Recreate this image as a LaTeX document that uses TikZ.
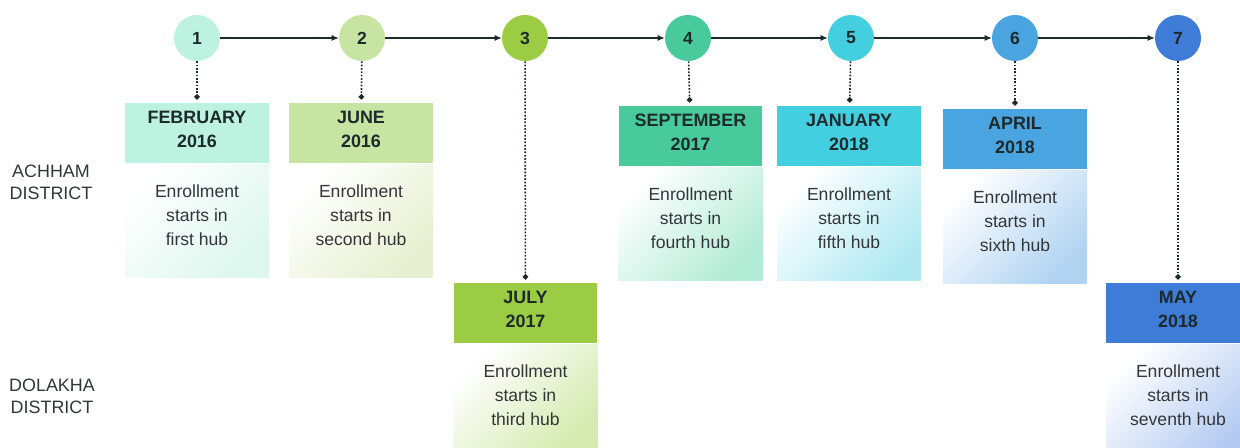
\documentclass[tikz,border=0pt]{standalone}
\usepackage{fontspec}
\setmainfont{Liberation Sans}
\usetikzlibrary{arrows.meta}

\definecolor{hubA}{HTML}{BDF2E0}
\definecolor{hubB}{HTML}{C8E4A2}
\definecolor{hubC}{HTML}{9CCC44}
\definecolor{hubD}{HTML}{48CA9C}
\definecolor{hubE}{HTML}{43CFE0}
\definecolor{hubF}{HTML}{4AA4E0}
\definecolor{hubG}{HTML}{3E7CD8}
\definecolor{noteA}{HTML}{DDF7EE}
\definecolor{noteB}{HTML}{E6F0D0}
\definecolor{noteC}{HTML}{D4EAAE}
\definecolor{noteD}{HTML}{B2EBD6}
\definecolor{noteE}{HTML}{B0E9F2}
\definecolor{noteF}{HTML}{B0D3F2}
\definecolor{noteG}{HTML}{B4CAF2}
\definecolor{inkdark}{HTML}{1D2A2C}
\definecolor{inkgray}{HTML}{333638}

\begin{document}
\begin{tikzpicture}[x=0.02cm,y=-0.02cm,
    hub/.style={shape=circle,fill=#1,minimum size=0.92cm,inner sep=0pt,
        text=inkdark,font=\bfseries\fontsize{10}{12}\selectfont},
    datebox/.style={rectangle,fill=#1,minimum width=2.88cm,minimum height=1.2cm,
        anchor=north},
    datetext/.style={align=center,text=inkdark,yshift=0.08cm,
        font=\bfseries\fontsize{10.2}{13.6}\selectfont},
    notebox/.style={rectangle,left color=white,right color=#1,shading angle=45,
        minimum width=2.88cm,minimum height=2.26cm,anchor=north},
    notetext/.style={align=center,text=inkgray,yshift=0.11cm,
        font=\fontsize{10}{13.6}\selectfont},
    district/.style={align=center,text=inkgray,font=\fontsize{10.2}{12.5}\selectfont},
    hubarrow/.style={-{Latex[length=4pt,width=3.5pt]},line width=0.6pt,draw=inkdark},
    dropline/.style={dash pattern=on 1pt off 0.9pt,-{Circle[length=3pt]},
        line width=0.9pt,draw=inkdark,shorten >=2pt}]
            \clip (0,0) rectangle (1240,448);

            \node[hub=hubA] (c1) at (197,38) {1};
            \node[hub=hubB] (c2) at (362,38) {2};
            \node[hub=hubC] (c3) at (525,38) {3};
            \node[hub=hubD] (c4) at (688,38) {4};
            \node[hub=hubE] (c5) at (851,38) {5};
            \node[hub=hubF] (c6) at (1015,38) {6};
            \node[hub=hubG] (c7) at (1178,38) {7};

            % date headers
            \node[datebox=hubA] (h1) at (197,103) {};
            \node[datebox=hubB] (h2) at (361,103) {};
            \node[datebox=hubC] (h3) at (525.5,283) {};
            \node[datebox=hubD] (h4) at (690.5,106) {};
            \node[datebox=hubE] (h5) at (849,106) {};
            \node[datebox=hubF] (h6) at (1015,109) {};
            \node[datebox=hubG] (h7) at (1178,283) {};
            \node[datetext] (d1) at (h1.center) {FEBRUARY\\2016};
            \node[datetext] (d2) at (h2.center) {JUNE\\2016};
            \node[datetext] (d3) at (h3.center) {JULY\\2017};
            \node[datetext] (d4) at (h4.center) {SEPTEMBER\\2017};
            \node[datetext] (d5) at (h5.center) {JANUARY\\2018};
            \node[datetext] (d6) at (h6.center) {APRIL\\2018};
            \node[datetext] (d7) at (h7.center) {MAY\\2018};

            % notes
            \node[notebox=noteA] (b1) at (h1.south) {};
            \node[notebox=noteB] (b2) at (h2.south) {};
            \node[notebox=noteC] (b3) at (h3.south) {};
            \node[notebox=noteD] (b4) at (h4.south) {};
            \node[notebox=noteE] (b5) at (h5.south) {};
            \node[notebox=noteF] (b6) at (h6.south) {};
            \node[notebox=noteG] (b7) at (h7.south) {};
            \node[notetext] (t1) at (b1.center) {Enrollment\\starts in\\first hub};
            \node[notetext] (t2) at (b2.center) {Enrollment\\starts in\\second hub};
            \node[notetext] (t3) at (b3.center) {Enrollment\\starts in\\third hub};
            \node[notetext] (t4) at (b4.center) {Enrollment\\starts in\\fourth hub};
            \node[notetext] (t5) at (b5.center) {Enrollment\\starts in\\fifth hub};
            \node[notetext] (t6) at (b6.center) {Enrollment\\starts in\\sixth hub};
            \node[notetext] (t7) at (b7.center) {Enrollment\\starts in\\seventh hub};

            \node[district] (achham) at (51,182) {ACHHAM\\DISTRICT};
            \node[district] (dolakha) at (52,396) {DOLAKHA\\DISTRICT};

            \path (c1) edge[hubarrow] (c2);
            \path (c2) edge[hubarrow] (c3);
            \path (c3) edge[hubarrow] (c4);
            \path (c4) edge[hubarrow] (c5);
            \path (c5) edge[hubarrow] (c6);
            \path (c6) edge[hubarrow] (c7);

            \path (c1) edge[dropline] (h1);
            \path (c2) edge[dropline] (h2);
            \path (c3) edge[dropline] (h3);
            \path (c4) edge[dropline] (h4);
            \path (c5) edge[dropline] (h5);
            \path (c6) edge[dropline] (h6);
            \path (c7) edge[dropline] (h7);
        \end{tikzpicture}
\end{document}
